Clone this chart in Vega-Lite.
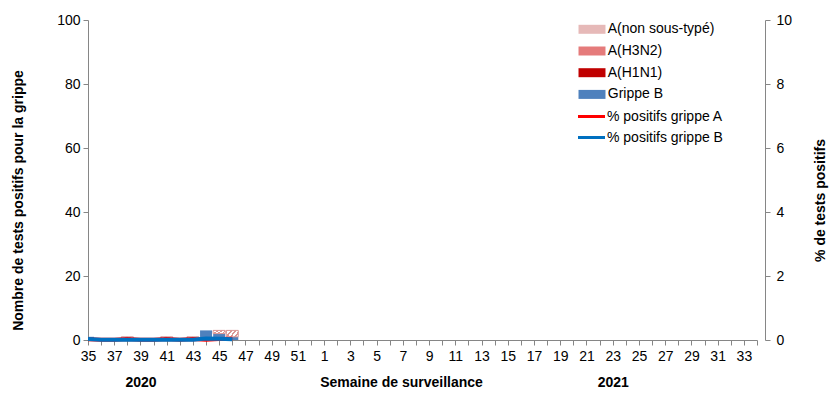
{
  "$schema": "https://vega.github.io/schema/vega-lite/v6.json",
  "width": 677,
  "height": 320,
  "autosize": "none",
  "padding": {"left": 88, "top": 20, "right": 75, "bottom": 65},
  "background": "white",
  "config": {
    "view": {"stroke": null},
    "font": "Liberation Sans",
    "axis": {
      "labelFont": "Liberation Sans",
      "titleFont": "Liberation Sans",
      "labelFontSize": 14,
      "titleFontSize": 14,
      "titleFontWeight": "bold",
      "labelColor": "#000000",
      "titleColor": "#000000",
      "domainColor": "#868686",
      "tickColor": "#868686",
      "grid": false
    },
    "legend": {"labelFont": "Liberation Sans", "labelFontSize": 14, "labelColor": "#000000", "padding": 0}
  },
  "datasets": {
    "barres": [
      {"semaine": "35", "type": "Grippe B", "n": 1},
      {"semaine": "38", "type": "A(non sous-typé)", "n": 1},
      {"semaine": "41", "type": "A(non sous-typé)", "n": 1},
      {"semaine": "43", "type": "A(non sous-typé)", "n": 1},
      {"semaine": "44", "type": "Grippe B", "n": 3},
      {"semaine": "45", "type": "Grippe B", "n": 2},
      {"semaine": "45", "type": "A(non sous-typé)", "n": 1},
      {"semaine": "46", "type": "Grippe B", "n": 1},
      {"semaine": "46", "type": "A(non sous-typé)", "n": 2}
    ],
    "pourcentages": [
      {"semaine": "35", "serie": "% positifs grippe A", "pct": 0.02},
      {"semaine": "36", "serie": "% positifs grippe A", "pct": 0.01},
      {"semaine": "37", "serie": "% positifs grippe A", "pct": 0.01},
      {"semaine": "38", "serie": "% positifs grippe A", "pct": 0.03},
      {"semaine": "39", "serie": "% positifs grippe A", "pct": 0.01},
      {"semaine": "40", "serie": "% positifs grippe A", "pct": 0.01},
      {"semaine": "41", "serie": "% positifs grippe A", "pct": 0.03},
      {"semaine": "42", "serie": "% positifs grippe A", "pct": 0.01},
      {"semaine": "43", "serie": "% positifs grippe A", "pct": 0.03},
      {"semaine": "44", "serie": "% positifs grippe A", "pct": 0.01},
      {"semaine": "45", "serie": "% positifs grippe A", "pct": 0.03},
      {"semaine": "46", "serie": "% positifs grippe A", "pct": 0.04},
      {"semaine": "35", "serie": "% positifs grippe B", "pct": 0.03},
      {"semaine": "36", "serie": "% positifs grippe B", "pct": 0.01},
      {"semaine": "37", "serie": "% positifs grippe B", "pct": 0.01},
      {"semaine": "38", "serie": "% positifs grippe B", "pct": 0.01},
      {"semaine": "39", "serie": "% positifs grippe B", "pct": 0.01},
      {"semaine": "40", "serie": "% positifs grippe B", "pct": 0.01},
      {"semaine": "41", "serie": "% positifs grippe B", "pct": 0.01},
      {"semaine": "42", "serie": "% positifs grippe B", "pct": 0.01},
      {"semaine": "43", "serie": "% positifs grippe B", "pct": 0.01},
      {"semaine": "44", "serie": "% positifs grippe B", "pct": 0.05},
      {"semaine": "45", "serie": "% positifs grippe B", "pct": 0.04},
      {"semaine": "46", "serie": "% positifs grippe B", "pct": 0.02}
    ]
  },
  "layer": [
    {
      "data": {"name": "barres"},
      "mark": {"type": "bar", "width": 12, "clip": true},
      "encoding": {
        "x": {
          "field": "semaine",
          "type": "ordinal",
          "scale": {
            "type": "point",
            "padding": 0,
            "range": [0, 669],
            "domain": ["35","36","37","38","39","40","41","42","43","44","45","46","47","48","49","50","51","52","1","2","3","4","5","6","7","8","9","10","11","12","13","14","15","16","17","18","19","20","21","22","23","24","25","26","27","28","29","30","31","32","33","34"]
          },
          "axis": {
            "title": "Semaine de surveillance",
            "titleX": 313,
            "titleY": 35,
            "titleBaseline": "top",
            "titleAlign": "center",
            "labelExpr": "toNumber(datum.value) % 2 == 1 ? datum.value : ''",
            "labelAngle": 0,
            "labelPadding": 4,
            "labelOverlap": false,
            "labelBaseline": "top",
            "tickSize": 5
          }
        },
        "y": {
          "field": "n",
          "type": "quantitative",
          "stack": "zero",
          "scale": {"domain": [0, 100], "nice": false},
          "axis": {
            "title": "Nombre de tests positifs pour la grippe",
            "values": [0, 20, 40, 60, 80, 100],
            "tickSize": 5,
            "labelPadding": 3,
            "titleX": -70,
            "titleY": 180,
            "titleAngle": 270,
            "titleAlign": "center",
            "titleBaseline": "middle"
          }
        },
        "fill": {
          "field": "type",
          "type": "nominal",
          "scale": {
            "domain": ["A(non sous-typé)", "A(H3N2)", "A(H1N1)", "Grippe B"],
            "range": ["#e6b9b8", "#e57b7b", "#c00000", "#4f81bd"]
          },
          "condition": {
            "test": "datum.type === 'A(non sous-typé)'",
            "value": {
              "gradient": "linear", "x1": 0, "y1": 0, "x2": 1.207, "y2": 0.483,
              "stops": [
                {"offset": 0, "color": "#d99694"}, {"offset": 0.11, "color": "#d99694"},
                {"offset": 0.11, "color": "#ffffff"}, {"offset": 0.25, "color": "#ffffff"},
                {"offset": 0.25, "color": "#d99694"}, {"offset": 0.36, "color": "#d99694"},
                {"offset": 0.36, "color": "#ffffff"}, {"offset": 0.5, "color": "#ffffff"},
                {"offset": 0.5, "color": "#d99694"}, {"offset": 0.61, "color": "#d99694"},
                {"offset": 0.61, "color": "#ffffff"}, {"offset": 0.75, "color": "#ffffff"},
                {"offset": 0.75, "color": "#d99694"}, {"offset": 0.86, "color": "#d99694"},
                {"offset": 0.86, "color": "#ffffff"}, {"offset": 1, "color": "#ffffff"}
              ]
            }
          },
          "legend": {
            "orient": "none",
            "legendX": 497,
            "legendY": 2.3,
            "title": null,
            "symbolType": "M-2,-0.667H2V0.667H-2Z",
            "symbolSize": 182,
            "symbolStrokeWidth": 0,
            "labelOffset": 8.75,
            "rowPadding": 7.7,
            "encode": {
              "symbols": {
                "fill": {"value": {"expr": "datum.value === 'A(non sous-typé)' ? {gradient: 'linear', x1: 0, y1: 0, x2: 1.2, y2: 0.4, stops: [{offset: 0, color: '#d99694'}, {offset: 0.055, color: '#d99694'}, {offset: 0.055, color: '#ffffff'}, {offset: 0.125, color: '#ffffff'}, {offset: 0.125, color: '#d99694'}, {offset: 0.18, color: '#d99694'}, {offset: 0.18, color: '#ffffff'}, {offset: 0.25, color: '#ffffff'}, {offset: 0.25, color: '#d99694'}, {offset: 0.305, color: '#d99694'}, {offset: 0.305, color: '#ffffff'}, {offset: 0.375, color: '#ffffff'}, {offset: 0.375, color: '#d99694'}, {offset: 0.43, color: '#d99694'}, {offset: 0.43, color: '#ffffff'}, {offset: 0.5, color: '#ffffff'}, {offset: 0.5, color: '#d99694'}, {offset: 0.555, color: '#d99694'}, {offset: 0.555, color: '#ffffff'}, {offset: 0.625, color: '#ffffff'}, {offset: 0.625, color: '#d99694'}, {offset: 0.68, color: '#d99694'}, {offset: 0.68, color: '#ffffff'}, {offset: 0.75, color: '#ffffff'}, {offset: 0.75, color: '#d99694'}, {offset: 0.805, color: '#d99694'}, {offset: 0.805, color: '#ffffff'}, {offset: 0.875, color: '#ffffff'}, {offset: 0.875, color: '#d99694'}, {offset: 0.93, color: '#d99694'}, {offset: 0.93, color: '#ffffff'}, {offset: 1, color: '#ffffff'}]} : scale('fill', datum.value)"}}
              }
            }
          }
        },
        "stroke": {
          "condition": {"test": "datum.type === 'A(non sous-typé)'", "value": "#d99694"},
          "value": null
        },
        "order": {"field": "type", "sort": "descending"}
      }
    },
    {
      "data": {"name": "pourcentages"},
      "mark": {"type": "line", "strokeWidth": 4},
      "encoding": {
        "x": {
          "field": "semaine",
          "type": "ordinal",
          "axis": {
            "orient": "bottom",
            "values": ["39", "23"],
            "labelExpr": "datum.value == '39' ? '2020' : '2021'",
            "domain": false,
            "ticks": false,
            "tickSize": 0,
            "labelPadding": 35,
            "labelBaseline": "top",
            "labelFontWeight": "bold",
            "labelDx": 2,
            "labelAngle": 0,
            "title": null
          }
        },
        "y": {
          "field": "pct",
          "type": "quantitative",
          "scale": {"domain": [0, 10], "nice": false},
          "axis": {
            "orient": "right",
            "title": "% de tests positifs",
            "values": [0, 2, 4, 6, 8, 10],
            "tickSize": 5,
            "labelPadding": 6,
            "titleX": 55,
            "titleY": 180,
            "titleAngle": 270,
            "titleAlign": "center",
            "titleBaseline": "middle"
          }
        },
        "stroke": {
          "field": "serie",
          "type": "nominal",
          "scale": {
            "domain": ["% positifs grippe A", "% positifs grippe B"],
            "range": ["#ff0000", "#0070c0"]
          },
          "legend": {
            "orient": "none",
            "legendX": 495,
            "legendY": 88,
            "title": null,
            "symbolType": "M-2,0H2",
            "symbolSize": 182,
            "symbolStrokeWidth": 3,
            "labelOffset": 7,
            "rowPadding": 5
          }
        }
      }
    }
  ],
  "resolve": {"scale": {"y": "independent"}, "axis": {"x": "independent"}}
}
